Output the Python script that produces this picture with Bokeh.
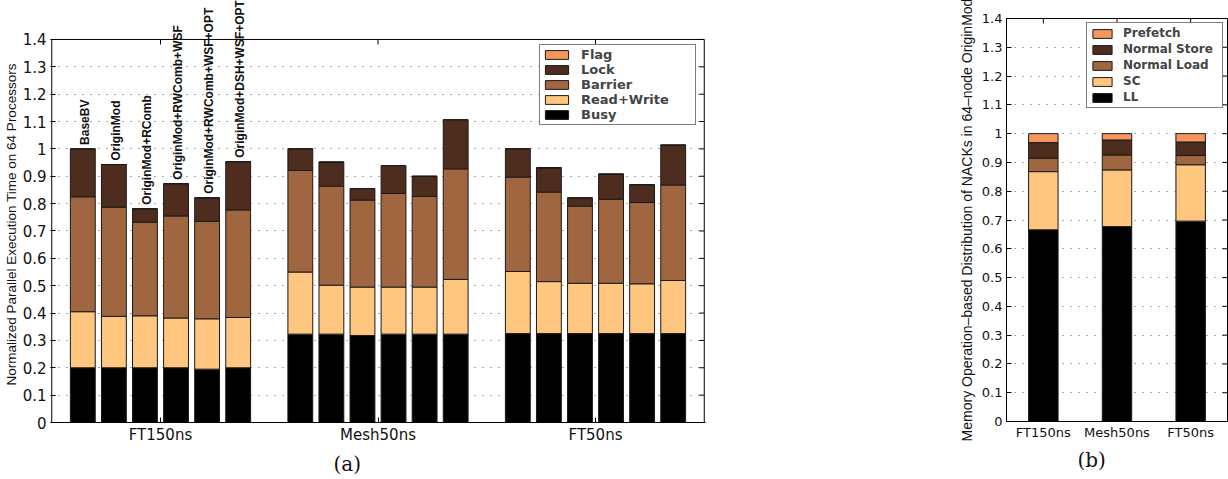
import numpy as np
from bokeh.plotting import figure
from bokeh.models import (ColumnDataSource, FixedTicker, Range1d, Legend, LegendItem, Title)
from bokeh.layouts import row
from bokeh.embed import file_html
from bokeh.resources import INLINE
from bokeh.core.properties import value

# ---------------- (a) execution time breakdown ----------------
groups = ["FT150ns", "Mesh50ns", "FT50ns"]
configs = ["BaseBV", "OriginMod", "OriginMod+RComb", "OriginMod+RWComb+WSF",
           "OriginMod+RWComb+WSF+OPT", "OriginMod+DSH+WSF+OPT"]

# one value per bar: FT150ns x6, Mesh50ns x6, FT50ns x6
busy = [0.200, 0.200, 0.200, 0.200, 0.195, 0.200,
        0.323, 0.323, 0.318, 0.323, 0.323, 0.323,
        0.325, 0.325, 0.325, 0.325, 0.325, 0.325]
read_write = [0.205, 0.188, 0.190, 0.182, 0.184, 0.184,
              0.227, 0.179, 0.177, 0.172, 0.172, 0.200,
              0.227, 0.190, 0.184, 0.184, 0.182, 0.194]
barrier = [0.420, 0.399, 0.342, 0.373, 0.356, 0.393,
           0.371, 0.362, 0.318, 0.342, 0.331, 0.404,
           0.345, 0.327, 0.282, 0.307, 0.297, 0.349]
lock = [0.175, 0.156, 0.049, 0.118, 0.086, 0.176,
        0.079, 0.088, 0.042, 0.100, 0.074, 0.178,
        0.103, 0.087, 0.028, 0.092, 0.065, 0.146]
flag = [0.000, 0.000, 0.000, 0.000, 0.000, 0.000,
        0.000, 0.000, 0.000, 0.002, 0.000, 0.002,
        0.000, 0.003, 0.003, 0.000, 0.000, 0.000]

components_a = ["Busy", "Read+Write", "Barrier", "Lock", "Flag"]

# ---------------- (b) NACK distribution ----------------
cats_b = ["FT150ns", "Mesh50ns", "FT50ns"]
ll = [0.666, 0.677, 0.696]
sc = [0.202, 0.197, 0.196]
normal_load = [0.047, 0.052, 0.032]
normal_store = [0.054, 0.052, 0.047]
prefetch = [0.031, 0.022, 0.029]

components_b = ["LL", "SC", "Normal Load", "Normal Store", "Prefetch"]

# shared palette, bottom segment first
palette = ["#000000", "#FFC680", "#A0663F", "#4E2D1F", "#F4965E"]
yticks = [round(0.1 * i, 1) for i in range(15)]
tick_text = {t: f"{t:g}" for t in yticks}

SANS = "DejaVu Sans"
TICK_LEN = 5  # px, inward tick marks


def style_axes(p, tick_font, xticks, xlabels, y_line=True):
    p.xgrid.grid_line_color = None
    p.ygrid.ticker = FixedTicker(ticks=yticks)
    p.ygrid.grid_line_color = "#555555"
    p.ygrid.grid_line_dash = "1 7"
    p.ygrid.grid_line_width = 1

    yax = p.yaxis[0]
    yax.ticker = FixedTicker(ticks=yticks)
    yax.major_label_overrides = tick_text
    yax.major_label_text_font = SANS
    yax.major_label_text_font_size = tick_font
    yax.major_label_text_color = "#111111"
    yax.major_tick_in = TICK_LEN
    yax.major_tick_out = 0
    yax.minor_tick_line_color = None
    yax.major_label_standoff = 4
    yax.axis_line_color = "black" if y_line else None

    xax = p.xaxis[0]
    xax.ticker = FixedTicker(ticks=xticks)
    xax.major_label_overrides = dict(zip(xticks, xlabels))
    xax.major_label_text_font = SANS
    xax.major_label_text_font_size = tick_font
    xax.major_label_text_color = "#111111"
    xax.major_tick_in = TICK_LEN
    xax.major_tick_out = 0
    xax.minor_tick_line_color = None
    xax.major_label_standoff = 3
    xax.axis_line_color = "black"


def mirror_ticks(p, xticks, x_right, y_top, px_x, px_y):
    """Inward tick marks on the top and right edges of the axes box."""
    dx = TICK_LEN / px_x
    dy = TICK_LEN / px_y
    p.segment(x0=xticks, y0=[y_top] * len(xticks), x1=xticks, y1=[y_top - dy] * len(xticks),
              line_color="black", line_width=1)
    p.segment(x0=[x_right] * len(yticks), y0=yticks, x1=[x_right - dx] * len(yticks), y1=yticks,
              line_color="black", line_width=1)


# ---------- figure (a) ----------
slot = 7  # six bars plus one empty slot per group
n_slots = slot * len(groups)
xa = [g * slot + c + 1 for g in range(len(groups)) for c in range(len(configs))]
src_a = ColumnDataSource(dict(x=xa, Busy=busy, **{"Read+Write": read_write},
                              Barrier=barrier, Lock=lock, Flag=flag))

# the plotting area reaches the top of the canvas so the rotated
# configuration names can rise above the axes box
A_W, A_H = 720, 479
a_left, a_right, a_bottom = 50, 15, 57
a_frame_h = A_H - a_bottom
a_px_y = 273.6                     # pixels per unit on the y axis
y_max_a = a_frame_h / a_px_y
pad_x = 0.04
pa = figure(width=A_W, height=A_H, output_backend="svg", toolbar_location=None,
            x_range=Range1d(-pad_x, n_slots + pad_x), y_range=Range1d(0, y_max_a),
            min_border_left=a_left, min_border_right=a_right, min_border_top=0,
            min_border_bottom=a_bottom)
pa.frame_align = False
pa.title = None
pa.outline_line_color = None
rend_a = pa.vbar_stack(components_a, x="x", width=0.8, source=src_a,
                       fill_color=palette, line_color="#1a1a1a", line_width=1)

group_centers_a = [g * slot + (len(configs) + 1) / 2 for g in range(len(groups))]
style_axes(pa, "15px", group_centers_a, groups, y_line=False)

# axes box
pa.quad(left=[0], right=[n_slots], bottom=[0], top=[yticks[-1]],
        fill_color=None, line_color="black", line_width=1)
a_px_x = (A_W - a_left - a_right) / (n_slots + 2 * pad_x)
mirror_ticks(pa, group_centers_a, n_slots, yticks[-1], a_px_x, a_px_y)

# configuration names above the first group of bars
tops_a = [b + r + ba + lo + f for b, r, ba, lo, f in zip(busy, read_write, barrier, lock, flag)]
n = len(configs)
pa.text(x=xa[:n], y=tops_a[:n], text=configs, angle=np.pi / 2,
        text_align="left", text_baseline="middle", x_offset=2, y_offset=-4,
        text_font=value("Liberation Sans"), text_font_style="bold",
        text_font_size="12px", text_color="#111111")

leg_a = Legend(items=[LegendItem(label=nm, renderers=[r])
                      for nm, r in reversed(list(zip(components_a, rend_a)))],
               location=(489, 297), orientation="vertical",
               label_text_font=SANS, label_text_font_style="bold", label_text_font_size="13px",
               glyph_width=29, glyph_height=11, label_height=14, label_width=112,
               label_standoff=10, spacing=0, padding=2, margin=0,
               border_line_color="black", border_line_width=1.5,
               background_fill_color="white", background_fill_alpha=1)
pa.add_layout(leg_a)

pa.add_layout(Title(text="Normalized Parallel Execution Time on 64 Processors",
                    align="left", offset=37, standoff=2,
                    text_font="Liberation Sans", text_font_size="13.5px",
                    text_font_style="normal", text_color="#111111"), "left")
pa.add_layout(Title(text="(a)", align="left", offset=283, standoff=6,
                    text_font="DejaVu Serif", text_font_size="20px",
                    text_font_style="normal", text_color="#111111"), "below")

# ---------- figure (b) ----------
xb = [2 * i + 1 for i in range(len(cats_b))]
nb_slots = 2 * len(cats_b)
src_b = ColumnDataSource(dict(x=xb, LL=ll, SC=sc, **{"Normal Load": normal_load,
                                                    "Normal Store": normal_store},
                              Prefetch=prefetch))
B_W, B_H = 508, 479
b_left, b_right, b_top, b_bottom = 286, 1, 18, 58
pb = figure(width=B_W, height=B_H, output_backend="svg", toolbar_location=None,
            x_range=Range1d(0, nb_slots), y_range=Range1d(0, yticks[-1]),
            min_border_left=b_left, min_border_right=b_right, min_border_top=b_top,
            min_border_bottom=b_bottom)
pb.frame_align = False
pb.title = None
pb.outline_line_color = "black"
pb.outline_line_width = 1
rend_b = pb.vbar_stack(components_b, x="x", width=0.8, source=src_b,
                       fill_color=palette, line_color="#1a1a1a", line_width=1)
style_axes(pb, "13px", xb, cats_b)
b_px_x = (B_W - b_left - b_right) / nb_slots
b_px_y = (B_H - b_top - b_bottom) / yticks[-1]
mirror_ticks(pb, xb, nb_slots, yticks[-1], b_px_x, b_px_y)

pb.yaxis[0].axis_label = "Memory Operation\u2013based Distribution of NACKs in 64\u2013node OriginMod"
pb.yaxis[0].axis_label_text_font = "Liberation Sans"
pb.yaxis[0].axis_label_text_font_size = "14px"
pb.yaxis[0].axis_label_text_font_style = "normal"
pb.yaxis[0].axis_label_text_color = "#111111"
pb.yaxis[0].axis_label_standoff = 4

leg_b = Legend(items=[LegendItem(label=nm, renderers=[r])
                      for nm, r in reversed(list(zip(components_b, rend_b)))],
               location=(80, 313), orientation="vertical",
               label_text_font=SANS, label_text_font_style="bold", label_text_font_size="12px",
               glyph_width=24, glyph_height=11, label_height=13, label_width=96,
               label_standoff=9, spacing=2, padding=3, margin=0,
               border_line_color="black", border_line_width=1.5,
               background_fill_color="white", background_fill_alpha=1)
pb.add_layout(leg_b)
pb.add_layout(Title(text="(b)", align="left", offset=71, standoff=6,
                    text_font="DejaVu Serif", text_font_size="20px",
                    text_font_style="normal", text_color="#111111"), "below")

layout = row(pa, pb)
open("out.html", "w").write(file_html(layout, INLINE))
